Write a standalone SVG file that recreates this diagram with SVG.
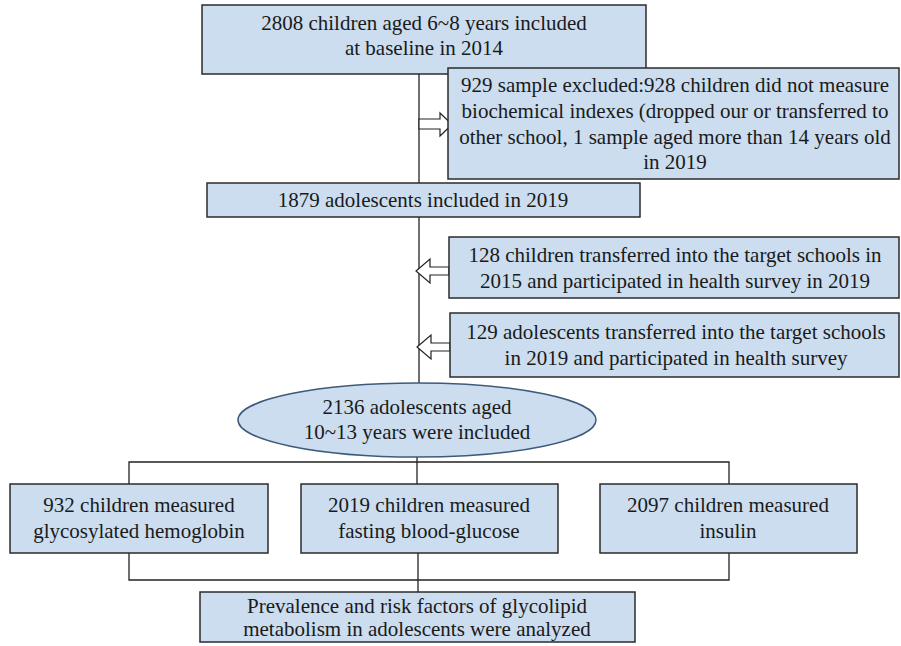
<svg xmlns="http://www.w3.org/2000/svg" width="901" height="646" viewBox="0 0 901 646">
<style>
.box{fill:#cbddef;stroke:#2b2b2b;stroke-width:1.5}
.ell{fill:#cbddef;stroke:#3e5a7a;stroke-width:1.5}
.ln{fill:none;stroke:#222;stroke-width:1.3}
.arr{fill:#fff;stroke:#222;stroke-width:1.2;stroke-linejoin:miter}
.t{font-size:21px;fill:#1a1a1a;text-anchor:middle}
</style>
<rect width="901" height="646" fill="#fff"/>
<g id="connectors">
<line class="ln" x1="419" y1="74" x2="419" y2="383"/>
<line class="ln" x1="417" y1="457" x2="417" y2="462"/>
<polyline class="ln" points="129,484 129,462 729,462 729,484"/>
<line class="ln" x1="417" y1="462" x2="417" y2="484"/>
<polyline class="ln" points="129,553 129,580 729,580 729,553"/>
<line class="ln" x1="418" y1="553" x2="418" y2="592"/>
<polygon class="arr" points="419,119 440,119 440,113 452,124.5 440,136 440,129 419,129"/>
<polygon class="arr" points="449,267 430,267 430,259 416,271 430,283 430,275 449,275"/>
<polygon class="arr" points="450,343 431,343 431,335 417,347 431,359 431,351 450,351"/>
</g>
<g font-family="'Liberation Serif', 'Times New Roman', serif">
<g id="n1">
<rect class="box" x="202" y="5" width="444" height="69"/>
<text class="t" x="424" y="30">2808 children aged 6~8 years included</text>
<text class="t" x="424" y="55">at baseline in 2014</text>
</g>
<g id="n2">
<rect class="box" x="448" y="68" width="451" height="111"/>
<text class="t" x="675" y="92">929 sample excluded:928 children did not measure</text>
<text class="t" x="675" y="118">biochemical indexes (dropped our or transferred to</text>
<text class="t" x="675" y="144">other school, 1 sample aged more than 14 years old</text>
<text class="t" x="675" y="169">in 2019</text>
</g>
<g id="n3">
<rect class="box" x="207" y="183" width="433" height="34"/>
<text class="t" x="423" y="207">1879 adolescents included in 2019</text>
</g>
<g id="n4">
<rect class="box" x="449" y="237" width="450" height="61"/>
<text class="t" x="675" y="262">128 children transferred into the target schools in</text>
<text class="t" x="675" y="288">2015 and participated in health survey in 2019</text>
</g>
<g id="n5">
<rect class="box" x="450" y="313" width="449" height="64"/>
<text class="t" x="676" y="339">129 adolescents transferred into the target schools</text>
<text class="t" x="676" y="365">in 2019 and participated in health survey</text>
</g>
<g id="n6">
<ellipse class="ell" cx="417" cy="420" rx="179" ry="37"/>
<text class="t" x="417" y="414">2136 adolescents aged</text>
<text class="t" x="417" y="439">10~13 years were included</text>
</g>
<g id="n7">
<rect class="box" x="10" y="484" width="258" height="69"/>
<text class="t" x="139" y="512">932 children measured</text>
<text class="t" x="139" y="538">glycosylated hemoglobin</text>
</g>
<g id="n8">
<rect class="box" x="301" y="484" width="257" height="69"/>
<text class="t" x="429" y="512">2019 children measured</text>
<text class="t" x="429" y="538">fasting blood-glucose</text>
</g>
<g id="n9">
<rect class="box" x="600" y="484" width="257" height="69"/>
<text class="t" x="728" y="512">2097 children measured</text>
<text class="t" x="728" y="538">insulin</text>
</g>
<g id="n10">
<rect class="box" x="200" y="592" width="435" height="50"/>
<text class="t" x="417" y="613">Prevalence and risk factors of glycolipid</text>
<text class="t" x="417" y="636">metabolism in adolescents were analyzed</text>
</g>
</g>
</svg>
